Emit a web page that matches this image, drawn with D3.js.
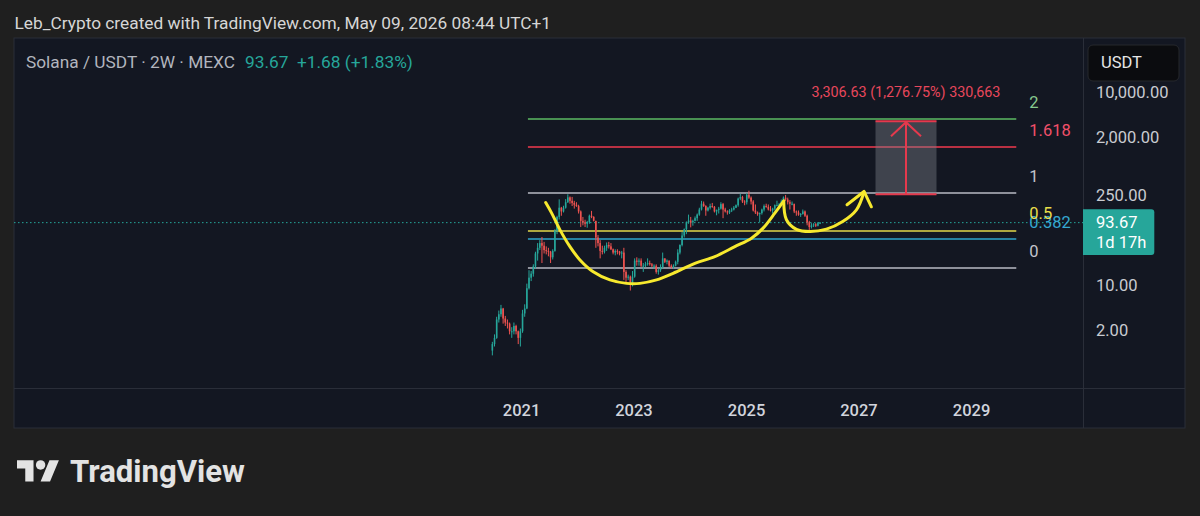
<!DOCTYPE html>
<html><head><meta charset="utf-8">
<script src="https://cdn.jsdelivr.net/npm/d3@7"></script>
<style>
html,body{margin:0;padding:0;background:#1f1f1f;overflow:hidden;}
svg{display:block;font-family:Roboto,"Noto Sans",sans-serif;}
</style>
</head><body><svg id="c" width="1200" height="516"></svg>
<script>
// ---------------- DATA ----------------
const headerText = "Leb_Crypto created with TradingView.com, May 09, 2026 08:44 UTC+1";
const symbolText = "Solana / USDT · 2W · MEXC";
const startDate = "2020-06-29";   // first 2-week candle
const barDays = 14;
const firstOpen = 0.95;
const closes = [1.2,1.5,2.9,3.5,4.3,3.0,2.6,2.5,1.9,1.9,2.3,1.9,1.5,1.9,3.6,4.3,8.9,13.0,15.0,19.5,
31,38,45,41,35,34,33,27,34,70,115,160,140,160,195,232,205,190,178,170,
140,100,95,90,95,120,115,100,55,45,34,33,38,42,40,36,32,34,33,31,
32,16,13,13.5,10,13.5,24,23,24,20,20,21,22,21,20,20,16,17,19,26,
23,24,20,19,20,23,32,42,59,74,95,101,95,100,110,125,150,185,170,145,
160,170,165,140,148,155,182,150,140,135,145,150,160,175,222,235,200,195,255,230,
200,145,135,127,132,150,170,165,150,145,155,175,175,180,200,230,215,195,185,185,
140,135,125,128,140,120,95,80,85,88,84,91.99,93.67];
const highs = [1.3,1.7,3.2,4.0,4.9,4.4,3.3,2.9,2.6,2.2,2.6,2.4,1.95,2.1,4.1,5.0,10.5,17,16.5,21,
33,45,50,56,47,40,38,34,36,74,120,216,165,172,218,259,240,236,205,195,
178,145,115,104,100,125,143,118,100,60,50,41,41,46,47,45,37,36,36,34,
34,38,17,14.5,14,16.5,26,27,26,26,22,23,26,24,22,21,21,18,21,32,
26,25,24,21,21,24,36,43,67,76,98,125,115,104,117,130,160,205,200,175,
165,185,190,170,150,165,195,190,160,146,152,160,170,180,230,264,245,210,270,295,
240,210,180,140,135,155,180,185,180,170,160,180,206,190,215,240,253,230,210,200,
180,145,145,132,150,145,125,100,92,92,92,96,95];
const lows = [0.8,1.1,1.45,2.6,3.2,2.5,2.3,2.1,1.7,1.5,1.7,1.7,1.2,1.1,1.8,3.2,4.2,8.5,11.5,13.5,
18,24,35,22,31,30,28,22,25,33,62,105,120,135,155,190,185,170,155,165,
130,80,85,80,78,90,110,98,38,40,26,30,31,34,37,35,30,29,30,29,
26,12,11,12,8.2,9.5,13,20,20,19,16,19,20,20,19,18,15,14.5,16,18,
22,21,19,18,18,19.5,21,30,40,55,62,90,79,84,98,100,120,145,165,120,
140,150,160,135,122,130,150,110,135,125,128,137,145,158,166,210,190,175,180,220,
180,140,128,120,95,125,140,160,145,140,130,145,170,155,180,195,205,180,150,175,
132,120,120,115,125,115,85,72,76,80,80,82,89];
const yearTicks = [2021, 2023, 2025, 2027, 2029];
const priceTicks = [10000, 2000, 250, 10, 2];
const countdownText = "1d 17h";
const quoteText = "USDT";

// Fibonacci retracement (log scale)
const fibLevels = [0, 0.382, 0.5, 1, 1.618, 2];
const fibPrice0 = 18.44, fibPrice1 = 267;
const fibStart = "2021-02-15", fibEnd = "2029-10-22";

// Long position tool
const posEntry = 258.988, posTarget = 3565.618;
const posStart = "2027-04-22", posEnd = "2028-05-22";

// Hand-drawn yellow path [year, price]
const cupPoints = [[2021.439,193],[2021.545,132],[2021.693,72.3],[2021.870,39.6],[2022.048,24.6],
[2022.284,16.1],[2022.581,12.0],[2022.877,10.6],[2023.114,10.6],[2023.410,12.0],[2023.705,15.2],
[2024.091,21.8],[2024.446,27.7],[2024.801,39.6],[2025.098,53.7],[2025.304,76.9],[2025.512,132],[2025.671,205]];
const handlePoints = [[2025.671,200],[2025.719,104],[2025.897,73.6],[2026.133,68.1],[2026.430,74.1],
[2026.719,97.5],[2026.963,148.6],[2027.098,282]];
const arrowPoints = [[2026.796,178],[2027.098,287],[2027.229,165.5]];

// ---------------- LAYOUT ----------------
const svg = d3.select("#c");
const P = {l:14, t:38, r:1185, b:428, plotR:1083, timeT:388};
const colUp = "#26a69a", colDown = "#ef5350";

const x = d3.scaleUtc().domain([new Date(Date.UTC(2021,0,1)), new Date(Date.UTC(2029,0,1))]).range([521, 971]);
const y = d3.scaleLog().domain([10, 10000]).range([285, 92.5]);
const yf = v => new Date(Date.UTC(2021,0,1) + (v-2021)*365.25*864e5);
const d0 = new Date(startDate + "T00:00:00Z");

const bars = closes.map((c,i)=>({
  date: new Date(d0.getTime() + i*barDays*864e5),
  o: i===0 ? firstOpen : closes[i-1], c, h: highs[i], l: lows[i]
}));

function fit(sel, size, target){
  sel.style("font-size", size+"px");
  const w = sel.node().getComputedTextLength();
  const s = size*target/w;
  sel.style("font-size", s.toFixed(2)+"px");
  return s;
}

// background
svg.append("rect").attr("width",1200).attr("height",516).attr("fill","#1f1f1f");
svg.append("rect").attr("x",P.l).attr("y",P.t).attr("width",P.r-P.l).attr("height",P.b-P.t)
  .attr("fill","#131722").attr("stroke","#2a2e39").attr("stroke-width",1);
svg.append("line").attr("x1",P.plotR+0.5).attr("x2",P.plotR+0.5).attr("y1",P.t).attr("y2",P.b).attr("stroke","#2a2e39");
svg.append("line").attr("x1",P.l).attr("x2",P.r).attr("y1",P.timeT+0.5).attr("y2",P.timeT+0.5).attr("stroke","#2a2e39");

// header
const hdr = svg.append("text").attr("x",14.5).attr("y",22.7).attr("dy","0.35em").attr("fill","#d6d6d6").text(headerText);
fit(hdr, 16, 537);

// clip
svg.append("clipPath").attr("id","plot").append("rect").attr("x",P.l).attr("y",P.t).attr("width",P.plotR-P.l).attr("height",P.timeT-P.t);
const g = svg.append("g").attr("clip-path","url(#plot)");

// current price dotted line
const last = closes[closes.length-1], prev = closes[closes.length-2];
g.append("line").attr("x1",P.l).attr("x2",P.plotR).attr("y1",y(last)).attr("y2",y(last))
  .attr("stroke",colUp).attr("stroke-width",1).attr("stroke-dasharray","1.5,2.5");

// fib lines
const fibColors = ["#b8bbc4","#2ea6cc","#e3d94b","#b8bbc4","#f23a4e","#5dbb63"];
const fibText = ["#c3c5cc","#35a8d0","#e8de4a","#c3c5cc","#f0506a","#86c98e"];
const lp0 = Math.log10(fibPrice0), lp1 = Math.log10(fibPrice1);
const fibPrice = L => Math.pow(10, lp0 + L*(lp1-lp0));
fibLevels.forEach((L,i)=>{
  const yy = Math.round(y(fibPrice(L)));
  g.append("line").attr("x1",x(new Date(fibStart))).attr("x2",x(new Date(fibEnd)))
    .attr("y1",yy).attr("y2",yy).attr("stroke",fibColors[i]).attr("stroke-width", 1.6);
});

// candles
const bw = 1.6;
const cg = g.append("g");
cg.selectAll("line.w").data(bars).join("line").attr("class","w")
  .attr("x1",d=>x(d.date)).attr("x2",d=>x(d.date))
  .attr("y1",d=>y(d.h)).attr("y2",d=>y(d.l))
  .attr("stroke",d=>d.c>=d.o?colUp:colDown).attr("stroke-width",1);
cg.selectAll("rect.b").data(bars).join("rect").attr("class","b")
  .attr("x",d=>x(d.date)-bw/2).attr("width",bw)
  .attr("y",d=>Math.min(y(d.o),y(d.c)))
  .attr("height",d=>Math.max(1,Math.abs(y(d.o)-y(d.c))))
  .attr("fill",d=>d.c>=d.o?colUp:colDown);

// fib labels (not clipped)
fibLevels.forEach((L,i)=>{
  svg.append("text").attr("x",x(new Date(fibEnd))+13).attr("y",y(fibPrice(L))-17).attr("dy","0.35em")
    .attr("fill",fibText[i]).style("font-size","16.5px").text(String(L));
});

// position tool
const px1 = x(new Date(posStart)), px2 = x(new Date(posEnd));
const pyT = y(posTarget), pyE = y(posEntry), pmx = (px1+px2)/2;
g.append("rect").attr("x",px1).attr("y",pyT).attr("width",px2-px1).attr("height",pyE-pyT)
  .attr("fill","rgba(125,128,138,0.42)");
[pyT,pyE].forEach(v=>g.append("line").attr("x1",px1).attr("x2",px2).attr("y1",v).attr("y2",v)
  .attr("stroke","#e5394d").attr("stroke-width",2));
g.append("line").attr("x1",pmx).attr("x2",pmx).attr("y1",pyE).attr("y2",pyT+1).attr("stroke","#e5394d").attr("stroke-width",2);
g.append("path").attr("d",`M${pmx-15},${pyT+15}L${pmx},${pyT+1}L${pmx+15},${pyT+15}`)
  .attr("fill","none").attr("stroke","#e5394d").attr("stroke-width",2);
const diff = posTarget-posEntry;
const posLabel = `${d3.format(",.2f")(diff)} (${d3.format(",.2f")(diff/posEntry*100)}%) ${d3.format(",")(Math.round(diff*100))}`;
const pt = svg.append("text").attr("x",pmx).attr("y",pyT-29.5).attr("dy","0.35em").attr("text-anchor","middle")
  .attr("fill","#e8475c").text(posLabel);
fit(pt, 14, 189);

// yellow drawings
const line = d3.line().x(d=>x(yf(d[0]))).y(d=>y(d[1])).curve(d3.curveCatmullRom.alpha(0.5));
[cupPoints, handlePoints].forEach(pts=>g.append("path").attr("d",line(pts)).attr("fill","none")
  .attr("stroke","#f7e92e").attr("stroke-width",3).attr("stroke-linecap","round"));
g.append("path").attr("d",d3.line().x(d=>x(yf(d[0]))).y(d=>y(d[1]))(arrowPoints)).attr("fill","none")
  .attr("stroke","#f7e92e").attr("stroke-width",3).attr("stroke-linecap","round").attr("stroke-linejoin","round");

// legend
const lg1 = svg.append("text").attr("x",26).attr("y",61.7).attr("dy","0.35em").attr("fill","#b2b5be").text(symbolText);
const ls = fit(lg1, 16, 209);
svg.append("text").attr("x",245).attr("y",61.7).attr("dy","0.35em").attr("fill",colUp).style("font-size",ls.toFixed(2)+"px")
  .text(d3.format(".2f")(last));
svg.append("text").attr("x",297).attr("y",61.7).attr("dy","0.35em").attr("fill",colUp).style("font-size",ls.toFixed(2)+"px")
  .text(`+${d3.format(".2f")(last-prev)} (+${d3.format(".2f")((last-prev)/prev*100)}%)`);

// price axis
const ya = svg.append("g").attr("transform",`translate(${P.plotR},0)`)
  .call(d3.axisRight(y).tickValues(priceTicks).tickFormat(d3.format(",.2f")).tickSize(0).tickPadding(13));
ya.select(".domain").remove();
ya.selectAll("text").attr("fill","#c9cbd1").style("font-size","16.5px").attr("font-family","Roboto,sans-serif");

// time axis
const xa = svg.append("g").attr("transform",`translate(0,${P.timeT})`)
  .call(d3.axisBottom(x).tickValues(yearTicks.map(v=>new Date(Date.UTC(v,0,1)))).tickFormat(d3.utcFormat("%Y")).tickSize(0));
xa.select(".domain").remove();
xa.selectAll("text").attr("y",22).attr("dy","0.35em").attr("fill","#d1d4dc").style("font-size","16.5px")
  .style("font-weight","500").attr("font-family","Roboto,sans-serif");

// last price label
svg.append("path").attr("d",`M${P.plotR},209.3H1151.3a3,3 0 0 1 3,3V252a3,3 0 0 1 -3,3H${P.plotR}Z`).attr("fill","#26a69a");
svg.append("text").attr("x",1096).attr("y",y(last)).attr("dy","0.35em").attr("fill","#ffffff").style("font-size","16.5px").text(d3.format(".2f")(last));
svg.append("text").attr("x",1096).attr("y",242.7).attr("dy","0.35em").attr("fill","#ffffff").style("font-size","16.5px").text(countdownText);

// USDT button
svg.append("rect").attr("x",1088).attr("y",45).attr("width",91).attr("height",36).attr("rx",5)
  .attr("fill","#0b0c0f").attr("stroke","#26282d");
svg.append("text").attr("x",1101).attr("y",62.7).attr("dy","0.35em").attr("fill","#e6e6e6").style("font-size","16.5px").text(quoteText);

// TradingView logo
const logo = svg.append("g").attr("transform","translate(17,455.5) scale(1.18)").attr("fill","#e3e3e3");
logo.append("path").attr("d","M14 22H7V11H0V4h14v18zM28 22h-8l7.5-18h8L28 22z");
logo.append("circle").attr("cx",20).attr("cy",8).attr("r",4);
const lt = svg.append("text").attr("x",70).attr("y",481.5).attr("fill","#e3e3e3").style("font-weight","700").text("TradingView");
fit(lt, 30, 175);
</script>
</body></html>
